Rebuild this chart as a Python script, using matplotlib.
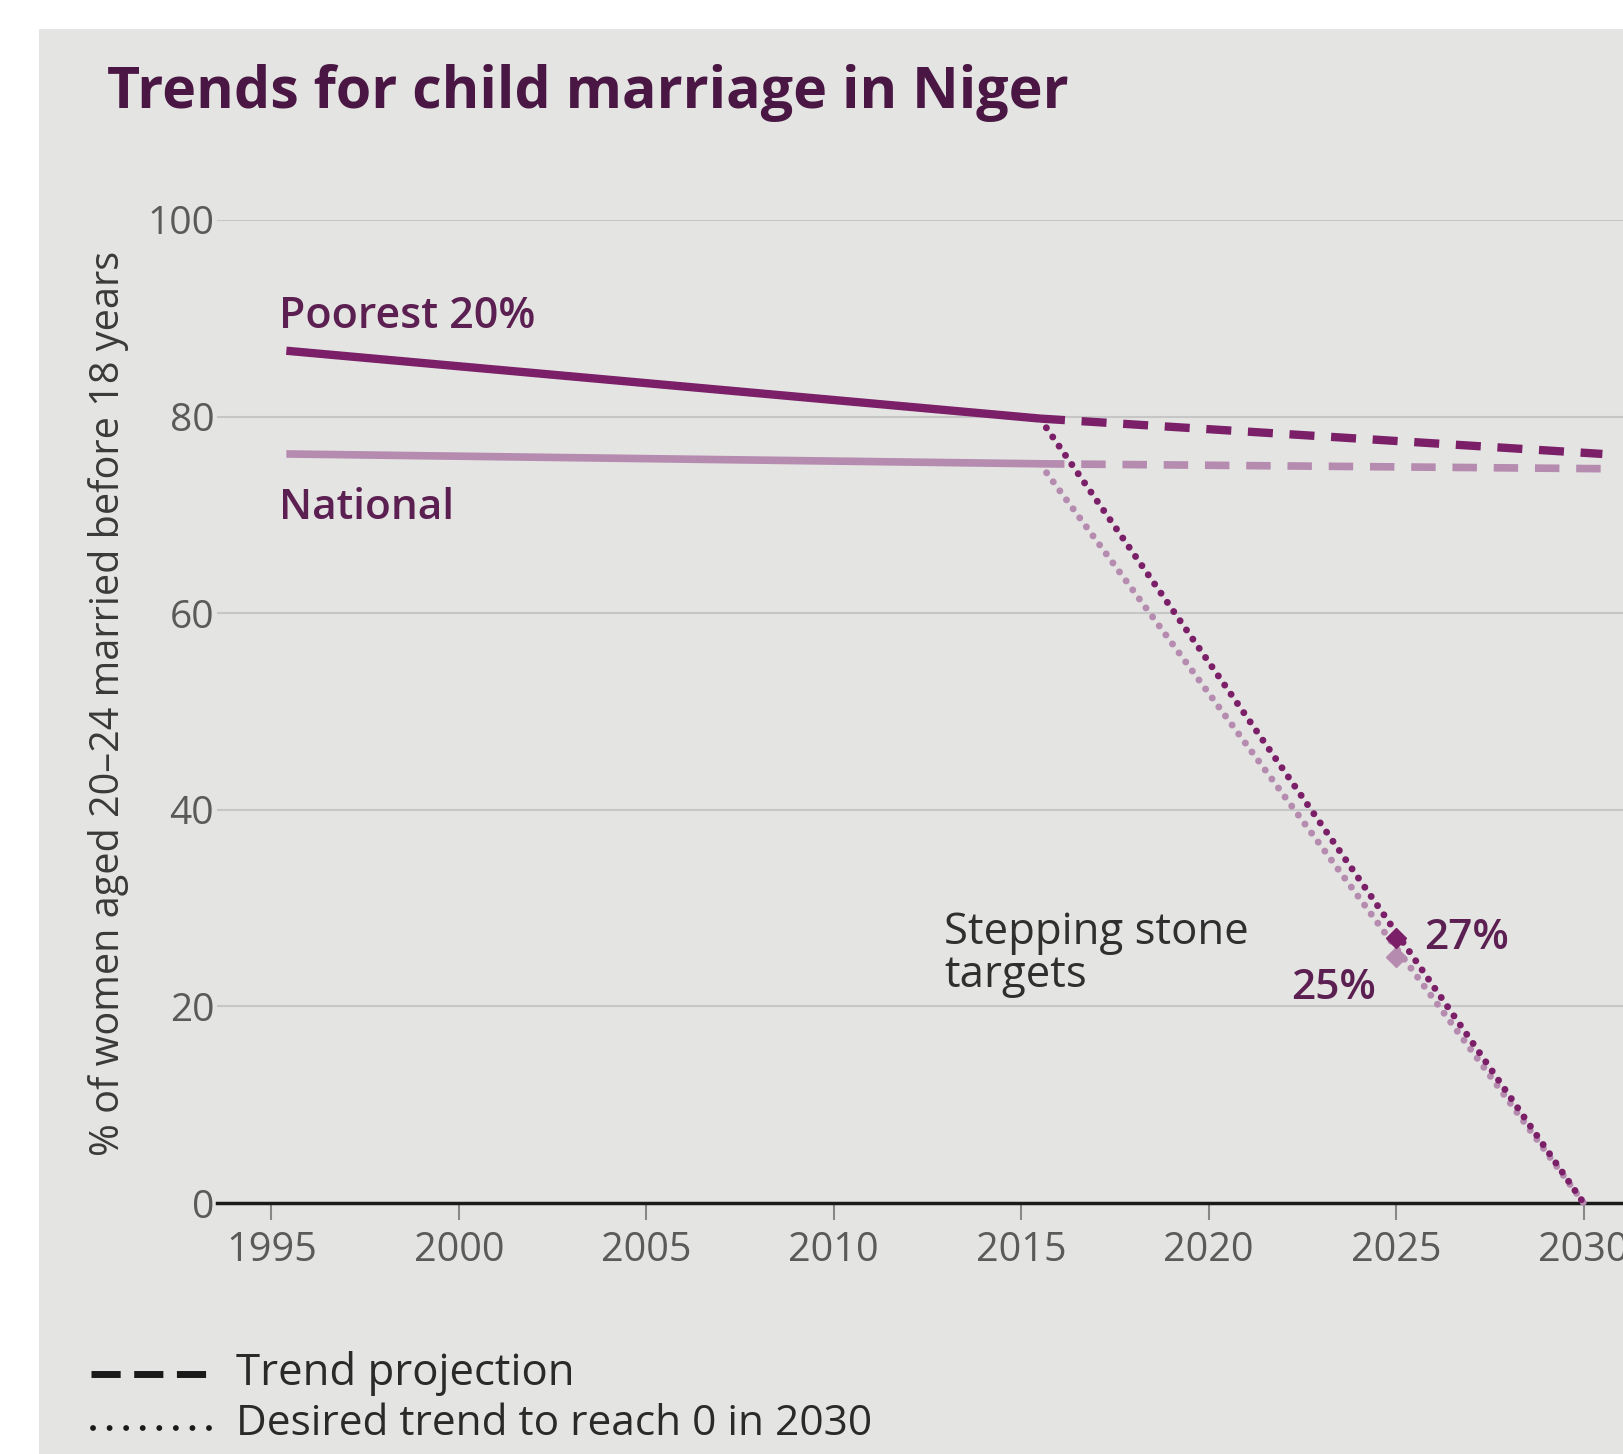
import matplotlib.pyplot as plt
from matplotlib.lines import Line2D
from matplotlib.patches import Rectangle

plt.rcParams['font.family'] = ['Open Sans', 'DejaVu Sans']

# observed data (DHS survey years)
obs_years = [1995.4, 2015.5]
poorest_obs = [86.7, 79.8]
national_obs = [76.2, 75.2]

# trend projection
proj_years = [2015.5, 2030.5]
poorest_proj = [79.8, 76.2]
national_proj = [75.2, 74.7]

# desired trend to reach 0 in 2030
desired_years = [2015.5, 2030.0]
poorest_desired = [79.8, 0.0]
national_desired = [75.2, 0.0]

# stepping stone targets
target_year = 2025
poorest_target = 27
national_target = 25

x_ticks = [1995, 2000, 2005, 2010, 2015, 2020, 2025, 2030]
y_ticks = [0, 20, 40, 60, 80, 100]

DARK = '#7a1f68'
LIGHT = '#b58bb0'
LABEL = '#5b1f52'
BG = '#e4e4e2'

fig = plt.figure(figsize=(16.23, 14.54), dpi=100, facecolor='white')
fig.add_artist(Rectangle((39 / 1623, 0), 1, 1 - 29 / 1454, transform=fig.transFigure,
                         facecolor=BG, edgecolor='none', zorder=0))

ax = fig.add_axes([217 / 1623, 1 - 1203 / 1454, 1 - 217 / 1623, (1203 - 220) / 1454])
ax.set_facecolor('none')
ax.set_xlim(1993.55, 2031.05)
ax.set_ylim(0, 100)

for s in ['top', 'right', 'left']:
    ax.spines[s].set_visible(False)
ax.spines['bottom'].set_color('#1a1a1a')
ax.spines['bottom'].set_linewidth(2.5)

ax.set_yticks(y_ticks)
ax.set_xticks(x_ticks)
ax.tick_params(axis='y', length=0, pad=2, labelsize=28, labelcolor='#5a5a5a')
ax.tick_params(axis='x', length=12, width=1.5, color='#888888', pad=8,
               labelsize=28.5, labelcolor='#5a5a5a')
for y in y_ticks[1:]:
    ax.axhline(y, color='#c6c6c6', lw=1.5, zorder=1)

# observed lines
ax.plot(obs_years, national_obs, color=LIGHT, lw=5.5, solid_capstyle='butt', zorder=3)
ax.plot(obs_years, poorest_obs, color=DARK, lw=6, solid_capstyle='butt', zorder=4)

# projections
ax.plot(proj_years, national_proj, color=LIGHT, lw=5.5, dashes=(3.2, 2.2), zorder=3, clip_on=False)
ax.plot(proj_years, poorest_proj, color=DARK, lw=6, dashes=(3.0, 2.0), zorder=4, clip_on=False)

# desired trends
dot_style = (0, (0.01, 1.6))
ax.plot(desired_years, national_desired, color=LIGHT, lw=5, linestyle=dot_style,
        dash_capstyle='round', zorder=3, clip_on=False)
ax.plot(desired_years, poorest_desired, color=DARK, lw=5, linestyle=dot_style,
        dash_capstyle='round', zorder=4, clip_on=False)

# stepping stone markers
ax.plot([target_year], [national_target], marker='D', ms=10, color=LIGHT, zorder=5)
ax.plot([target_year], [poorest_target], marker='D', ms=10, color=DARK, zorder=6)

# labels
ax.text(1995.2, 90.2, 'Poorest 20%', fontsize=31, fontweight='semibold', color=LABEL,
        va='center')
ax.text(1995.2, 70.7, 'National', fontsize=30.5, fontweight='semibold', color=LABEL,
        va='center')
ax.text(2012.95, 25.3, 'Stepping stone\ntargets', fontsize=31.5, color='#2f2f2f',
        va='center', linespacing=0.98)
ax.text(2025.75, 27.0, f'{poorest_target}%', fontsize=30.5, fontweight='semibold',
        color=LABEL, va='center')
ax.text(2022.2, 21.9, f'{national_target}%', fontsize=30.5, fontweight='semibold',
        color=LABEL, va='center')

fig.text(107 / 1623, 1 - 93 / 1454, 'Trends for child marriage in Niger',
         fontsize=41.3, fontweight='bold', color='#4a1744', va='center')

fig.text(109 / 1623, 1 - 703 / 1454, '% of women aged 20\u201324 married before 18 years',
         rotation=90, fontsize=28.5, color='#3a3a3a', va='center', ha='center')

# legend
fig.add_artist(Line2D([91 / 1623, 212 / 1623], [1 - 1374 / 1454] * 2, transform=fig.transFigure,
                      color='#1a1a1a', lw=5, dashes=(4.2, 1.95)))
fig.add_artist(Line2D([93 / 1623, 213 / 1623], [1 - 1428 / 1454] * 2, transform=fig.transFigure,
                      color='#1a1a1a', lw=4.2, linestyle=(0, (0.01, 2.83)), dash_capstyle='round'))
fig.text(236 / 1623, 1 - 1374 / 1454, 'Trend projection', fontsize=31.5, color='#2a2a2a', va='center')
fig.text(236 / 1623, 1 - 1424 / 1454, 'Desired trend to reach 0 in 2030', fontsize=30.5,
         color='#2a2a2a', va='center')

fig.savefig('out.png', dpi=100, facecolor=fig.get_facecolor())
